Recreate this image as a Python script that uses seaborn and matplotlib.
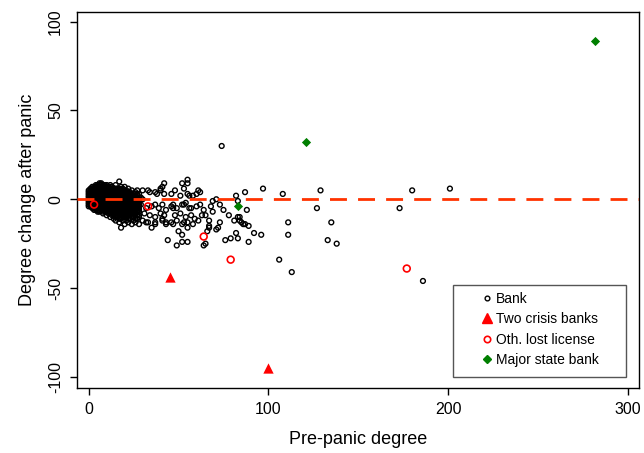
import matplotlib
matplotlib.use("Agg")
import matplotlib.pyplot as plt
from matplotlib.lines import Line2D
from matplotlib.patches import Rectangle
import seaborn as sns
import pandas as pd

# (pre-panic degree, degree change) for ordinary banks
bank = [
    # dense cluster near the origin
    (0,-3),(0,-1),(0,0),(0,1),(0,2),(0,3),(0,-2),(0,4),(0,-4),(0,5),
    (1,-4),(1,-2),(1,0),(1,1),(1,2),(1,3),(1,4),(1,5),(1,-3),(1,-1),(1,6),
    (2,-5),(2,-3),(2,-1),(2,0),(2,1),(2,2),(2,3),(2,4),(2,5),(2,6),(2,-4),(2,-2),(2,7),
    (3,-6),(3,-4),(3,-2),(3,0),(3,1),(3,2),(3,3),(3,5),(3,6),(3,-5),(3,-3),(3,-1),(3,4),(3,7),
    (4,-6),(4,-3),(4,-1),(4,0),(4,2),(4,4),(4,5),(4,7),(4,-5),(4,-4),(4,-2),(4,1),(4,3),(4,6),(4,8),
    (5,-7),(5,-5),(5,-2),(5,0),(5,1),(5,3),(5,6),(5,8),(5,-6),(5,-4),(5,-3),(5,-1),(5,2),(5,4),(5,5),(5,7),
    (6,-7),(6,-4),(6,-1),(6,1),(6,2),(6,4),(6,7),(6,9),(6,-6),(6,-5),(6,-3),(6,-2),(6,0),(6,3),(6,5),(6,6),(6,8),
    (7,-6),(7,-3),(7,0),(7,2),(7,3),(7,5),(7,8),(7,9),(7,-5),(7,-4),(7,-2),(7,-1),(7,1),(7,4),(7,6),(7,7),
    (8,-8),(8,-5),(8,-2),(8,0),(8,1),(8,3),(8,6),(8,8),(8,-7),(8,-6),(8,-4),(8,-3),(8,-1),(8,2),(8,4),(8,5),(8,7),
    (9,-7),(9,-4),(9,-1),(9,2),(9,4),(9,7),(9,8),(9,-6),(9,-5),(9,-3),(9,-2),(9,0),(9,1),(9,3),(9,5),(9,6),
    (10,-9),(10,-6),(10,-3),(10,0),(10,1),(10,3),(10,5),(10,8),(10,-7),(10,-5),(10,-4),(10,-2),(10,-1),(10,2),(10,4),(10,6),(10,7),
    (11,-8),(11,-5),(11,-2),(11,0),(11,2),(11,4),(11,6),(11,-7),(11,-6),(11,-4),(11,-3),(11,-1),(11,1),(11,3),(11,5),(11,7),
    (12,-10),(12,-7),(12,-4),(12,-1),(12,1),(12,3),(12,5),(12,8),(12,-8),(12,-6),(12,-5),(12,-3),(12,-2),(12,0),(12,2),(12,4),(12,6),(12,7),
    (13,-9),(13,-6),(13,-3),(13,0),(13,2),(13,4),(13,7),(13,-8),(13,-7),(13,-5),(13,-4),(13,-2),(13,-1),(13,1),(13,3),(13,5),(13,6),
    (14,-11),(14,-8),(14,-5),(14,-2),(14,1),(14,3),(14,6),(14,-9),(14,-7),(14,-6),(14,-4),(14,-3),(14,-1),(14,0),(14,2),(14,4),(14,5),
    (15,-12),(15,-9),(15,-6),(15,-3),(15,0),(15,2),(15,5),(15,8),(15,-10),(15,-8),(15,-7),(15,-5),(15,-4),(15,-2),(15,-1),(15,1),(15,3),(15,4),(15,6),
    (16,-10),(16,-7),(16,-4),(16,-1),(16,1),(16,4),(16,6),(16,-9),(16,-8),(16,-6),(16,-5),(16,-3),(16,-2),(16,0),(16,2),(16,3),(16,5),
    (17,-13),(17,-9),(17,-5),(17,-2),(17,0),(17,3),(17,10),(17,-11),(17,-8),(17,-7),(17,-6),(17,-4),(17,-3),(17,-1),(17,1),(17,2),(17,4),(17,5),(17,6),
    (18,-16),(18,-11),(18,-8),(18,-4),(18,-1),(18,2),(18,5),(18,7),(18,-10),(18,-9),(18,-7),(18,-6),(18,-5),(18,-3),(18,-2),(18,0),(18,1),(18,3),(18,4),
    (19,-12),(19,-9),(19,-6),(19,-3),(19,0),(19,3),(19,6),(19,-10),(19,-8),(19,-7),(19,-5),(19,-4),(19,-2),(19,-1),(19,1),(19,2),(19,4),(19,5),
    (20,-14),(20,-10),(20,-7),(20,-4),(20,-1),(20,1),(20,4),(20,7),(20,-9),(20,-8),(20,-6),(20,-5),(20,-3),(20,-2),(20,0),(20,2),(20,3),(20,5),
    (21,-12),(21,-8),(21,-5),(21,-2),(21,0),(21,3),(21,5),(21,-10),(21,-7),(21,-6),(21,-4),(21,-3),(21,-1),(21,1),(21,2),(21,4),
    (22,-13),(22,-9),(22,-6),(22,-3),(22,-1),(22,2),(22,6),(22,-11),(22,-8),(22,-7),(22,-5),(22,-4),(22,-2),(22,0),(22,1),(22,3),(22,4),
    (23,-11),(23,-7),(23,-4),(23,-2),(23,1),(23,4),(23,-9),(23,-6),(23,-5),(23,-3),(23,-1),(23,0),(23,2),(23,3),
    (24,-14),(24,-10),(24,-6),(24,-3),(24,0),(24,2),(24,5),(24,-8),(24,-7),(24,-5),(24,-4),(24,-2),(24,-1),(24,1),(24,3),
    (25,-12),(25,-8),(25,-5),(25,-1),(25,1),(25,3),(25,-10),(25,-7),(25,-6),(25,-4),(25,-3),(25,-2),(25,0),(25,2),
    (26,-13),(26,-9),(26,-6),(26,-2),(26,0),(26,4),(26,-11),(26,-8),(26,-7),(26,-5),(26,-4),(26,-3),(26,-1),(26,1),(26,2),
    (27,-11),(27,-7),(27,-4),(27,-1),(27,2),(27,5),(27,-9),(27,-6),(27,-5),(27,-3),(27,-2),(27,0),(27,1),(27,3),
    (28,-14),(28,-10),(28,-5),(28,-2),(28,0),(28,3),(28,-7),(28,-6),(28,-4),(28,-3),(28,-1),(28,1),
    # middle band
    (29,-3),(29,1),(28,-9),(30,0),(30,5),(30,-12),(31,-8),(32,-5),(32,-13),
    (33,5),(33,-13),(34,4),(34,-9),(35,-4),(35,-16),(37,4),(37,-3),(37,-10),
    (37,-13),(37,-14),(38,3),(39,-5),(40,6),(40,-8),(40,5),(41,7),(41,-3),
    (41,-11),(41,-12),(42,3),(42,9),(42,-9),(43,-6),(43,-13),(43,-14),(44,-23),
    (46,3),(46,-4),(46,-13),(47,-3),(47,-5),(47,-14),(48,5),(48,-9),(49,-5),
    (49,-12),(49,-26),(50,-18),(51,2),(51,-8),(52,-3),(52,9),(52,-14),
    (52,-20),(52,-24),(53,6),(53,-3),(53,-13),(54,-2),(54,-10),(55,11),(55,9),
    (55,3),(55,-13),(55,-16),(55,-24),(56,2),(56,-5),(57,-5),(57,-9),(58,2),
    (58,-14),(59,-11),(60,3),(60,-4),(61,5),(61,-12),(62,-3),(62,4),(63,-9),
    (64,-6),(64,-26),(65,-9),(65,-25),(66,-18),(67,-12),(67,-15),(67,-16),
    (68,-4),(69,-1),(69,-7),(71,0),(71,-17),(72,-16),(73,-3),(73,-13),(74,30),
    (75,-6),(76,-23),(78,-9),(79,-22),(81,-12),(82,2),(82,-19),(83,-1),
    (83,-10),(83,-22),(84,-12),(84,-10),(85,-13),(86,-14),(87,4),(87,-14),
    (88,-6),(89,-15),(89,-24),(92,-19),(96,-20),(97,6),
    # sparse right tail
    (106,-34),(108,3),(111,-13),(111,-20),(113,-41),(127,-5),(129,5),
    (133,-23),(135,-13),(138,-25),(173,-5),(180,5),(186,-46),(201,6),
]
bank_x = [p[0] for p in bank]
bank_y = [p[1] for p in bank]

crisis_x = [45, 100]
crisis_y = [-44, -95]

lost_x = [3, 33, 64, 79, 177]
lost_y = [-3, -4, -21, -34, -39]

state_x = [83, 121, 282]
state_y = [-4, 32, 89]

sns.set_style("white")
plt.rcParams["font.family"] = ["Liberation Sans", "DejaVu Sans"]
plt.rcParams["axes.unicode_minus"] = False
plt.rcParams["text.color"] = "black"
plt.rcParams["axes.labelcolor"] = "black"
plt.rcParams["xtick.color"] = "black"
plt.rcParams["ytick.color"] = "black"

fig = plt.figure(figsize=(6.44, 4.53), dpi=100)
ax = fig.add_axes([0.1196, 0.1441, 0.872, 0.8301])

df_bank = pd.DataFrame({"x": bank_x, "y": bank_y})
sns.scatterplot(data=df_bank, x="x", y="y", ax=ax, marker="o", s=12,
                facecolors="none", edgecolor="black", linewidth=1.0, zorder=2)

ax.axhline(0, color="#ff3300", lw=2.0, ls=(0, (6.1, 4.0)), zorder=3)

sns.scatterplot(x=lost_x, y=lost_y, ax=ax, marker="o", s=24,
                facecolors="none", edgecolor="red", linewidth=1.2, zorder=4)
sns.scatterplot(x=crisis_x, y=crisis_y, ax=ax, marker="^", s=55,
                color="red", edgecolor="red", linewidth=0, zorder=4)
sns.scatterplot(x=state_x, y=state_y, ax=ax, marker="D", s=22,
                color="#007f00", edgecolor="#007f00", linewidth=0, zorder=4)

ax.set_xlim(-6.5, 306)
ax.set_ylim(-106.1, 105.6)
ax.set_xticks([0, 100, 200, 300])
ax.set_yticks([-100, -50, 0, 50, 100])
ax.set_xlabel("Pre-panic degree", fontsize=13, labelpad=10)
ax.set_ylabel("Degree change after panic", fontsize=13, labelpad=9)
ax.tick_params(axis="both", direction="out", length=5, width=1,
               labelsize=11.5, colors="black", bottom=True, left=True)
ax.tick_params(axis="x", pad=5)
ax.tick_params(axis="y", pad=5)
for lab in ax.get_yticklabels():
    lab.set_rotation(90)
    lab.set_va("center")
for sp in ax.spines.values():
    sp.set_color("black")
    sp.set_linewidth(1.0)

ax.add_patch(Rectangle((0.6695, 0.0285), 0.3081, 0.2445, transform=ax.transAxes,
                       fill=False, edgecolor="#555555", lw=1.0, zorder=5))
handles = [
    Line2D([], [], ls="none", marker="o", ms=3.4, mfc="none", mec="black", mew=1.0),
    Line2D([], [], ls="none", marker="^", ms=7, color="red"),
    Line2D([], [], ls="none", marker="o", ms=4.6, mfc="none", mec="red", mew=1.2),
    Line2D([], [], ls="none", marker="D", ms=4.5, color="#007f00"),
]
labels = ["Bank", "Two crisis banks", "Oth. lost license", "Major state bank"]
ax.legend(handles, labels, loc="upper left", bbox_to_anchor=(0.717, 0.2545),
          frameon=False, fontsize=10, borderpad=0, handlelength=1.0,
          handletextpad=0.15, labelspacing=0.45, borderaxespad=0)

fig.savefig("out.png", dpi=100)
